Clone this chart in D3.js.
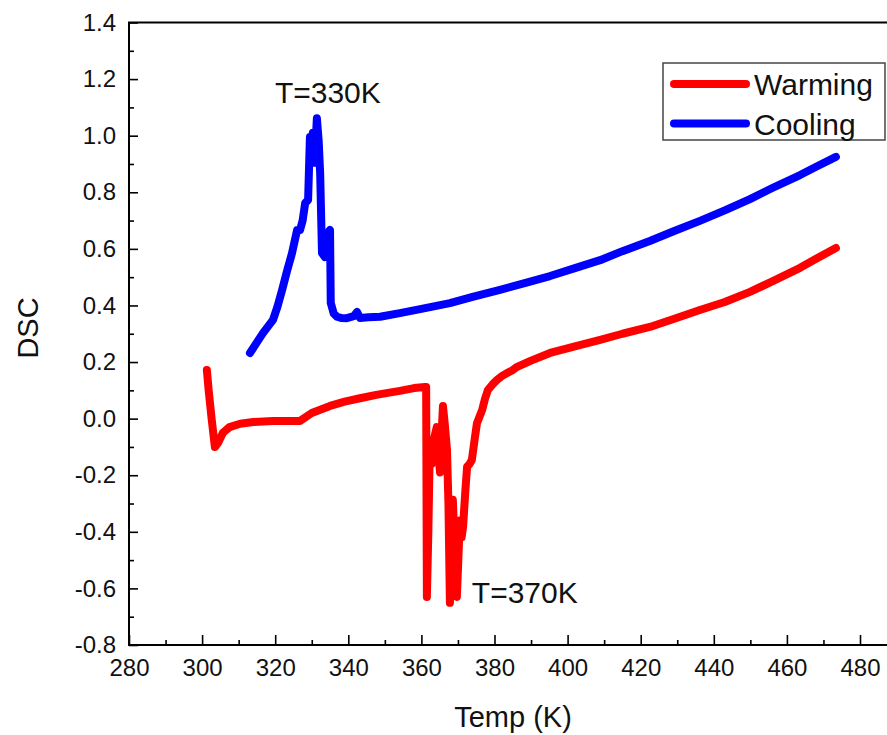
<!DOCTYPE html>
<html>
<head>
<meta charset="utf-8">
<script src="https://cdn.jsdelivr.net/npm/d3@7/dist/d3.min.js"></script>
<style>
  html, body { margin: 0; padding: 0; background: #fff; }
  svg { display: block; font-family: "Liberation Sans", Arial, Helvetica, sans-serif; }
</style>
</head>
<body>
<script>
// DSC heat-flow traces (temperature in K, signal in arbitrary units)
const warmingTemp = [301.3, 301.8, 302.6, 303.5, 304.4, 305.7, 307.5, 310.4, 314.0, 319.4, 323.0, 326.8,
  330.0, 335.0, 339.0, 343.2, 348.0, 354.1, 358.0, 361.0, 361.3, 361.5, 361.9, 362.3, 362.8, 363.3, 364.2,
  364.6, 365.1, 365.5, 365.9, 366.4, 367.0, 367.4, 367.8, 368.2, 368.6, 369.1, 369.7, 370.1, 370.5, 371.0,
  371.4, 372.0, 372.5, 373.2, 373.8, 374.5, 375.2, 376.0, 376.6, 377.4, 378.2, 379.4, 380.7, 382.0, 383.4,
  384.8, 386.2, 390.0, 395.2, 402.0, 408.9, 415.0, 422.5, 429.0, 436.2, 443.0, 449.9, 456.0, 463.6, 468.0, 473.4];
const warmingDSC = [0.172, 0.10, 0.00, -0.100, -0.085, -0.050, -0.030, -0.018, -0.012, -0.008, -0.008, -0.008,
  0.020, 0.045, 0.060, 0.072, 0.085, 0.098, 0.108, 0.112, 0.112, -0.630, -0.400, -0.100, -0.160, -0.080, -0.030,
  -0.120, -0.190, -0.060, 0.045, -0.020, -0.110, -0.300, -0.651, -0.450, -0.287, -0.450, -0.630, -0.500, -0.360, -0.420,
  -0.382, -0.260, -0.170, -0.160, -0.146, -0.080, -0.016, 0.010, 0.030, 0.070, 0.101, 0.120, 0.137, 0.150, 0.161,
  0.170, 0.183, 0.205, 0.232, 0.255, 0.278, 0.300, 0.324, 0.352, 0.384, 0.412, 0.448, 0.485, 0.533, 0.565, 0.603];

const coolingTemp = [313.1, 314.9, 316.7, 318.0, 319.4, 320.6, 321.9, 323.2, 324.6, 326.0, 326.8, 327.5,
  328.2, 329.0, 329.5, 329.9, 330.3, 330.8, 331.4, 331.9, 332.3, 332.8, 333.6, 334.1, 334.4, 335.0, 335.2,
  336.0, 336.9, 338.0, 339.6, 341.5, 342.4, 343.2, 345.5, 348.7, 354.1, 360.0, 367.8, 374.0, 381.5, 388.0,
  395.2, 402.0, 408.9, 415.0, 422.5, 429.0, 436.2, 443.0, 449.9, 456.0, 463.6, 468.0, 473.4];
const coolingDSC = [0.232, 0.268, 0.303, 0.325, 0.349, 0.395, 0.455, 0.520, 0.585, 0.667, 0.667, 0.700,
  0.762, 0.773, 0.995, 0.960, 1.010, 0.904, 1.062, 0.980, 0.868, 0.585, 0.571, 0.620, 0.656, 0.667, 0.409,
  0.372, 0.360, 0.356, 0.355, 0.362, 0.377, 0.356, 0.358, 0.360, 0.373, 0.388, 0.408, 0.430, 0.455, 0.478,
  0.504, 0.532, 0.560, 0.592, 0.628, 0.662, 0.699, 0.736, 0.776, 0.815, 0.861, 0.890, 0.925];

const xMajorTicks = [280, 300, 320, 340, 360, 380, 400, 420, 440, 460, 480];
const xMinorTicks = [290, 310, 330, 350, 370, 390, 410, 430, 450, 470];
const yMajorTicks = [-0.8, -0.6, -0.4, -0.2, 0.0, 0.2, 0.4, 0.6, 0.8, 1.0, 1.2, 1.4];
const yMinorTicks = [-0.7, -0.5, -0.3, -0.1, 0.1, 0.3, 0.5, 0.7, 0.9, 1.1, 1.3];

const seriesNames = ["Warming", "Cooling"];
const seriesColors = ["#ff0000", "#0000ff"];
const annotations = [
  { text: "T=330K", temp: 331.4, dsc: 1.062 },
  { text: "T=370K", temp: 369.7, dsc: -0.630 }
];

const W = 887, H = 735;
const plotLeft = 129, plotTop = 22.5, plotBottom = 645, plotRight = 900;

const x = d3.scaleLinear().domain([280, 480]).range([plotLeft, 860]);
const y = d3.scaleLinear().domain([-0.8, 1.4]).range([plotBottom, plotTop]);

const svg = d3.select("body").append("svg").attr("width", W).attr("height", H);

// curves
const line = d3.line().x(d => x(d[0])).y(d => y(d[1]));
const warming = warmingTemp.map((t, i) => [t, warmingDSC[i]]);
const cooling = coolingTemp.map((t, i) => [t, coolingDSC[i]]);
[warming, cooling].forEach((pts, i) => {
  svg.append("path").datum(pts).attr("d", line)
    .attr("fill", "none").attr("stroke", seriesColors[i])
    .attr("stroke-width", 8).attr("stroke-linejoin", "round").attr("stroke-linecap", "round");
});

// frame (right side runs past the page edge)
svg.append("path")
  .attr("d", `M${plotRight},${plotTop}H${plotLeft}V${plotBottom}H${plotRight}`)
  .attr("fill", "none").attr("stroke", "#000").attr("stroke-width", 2);

const labelFont = "Liberation Sans, Arial, sans-serif";

// x axis ticks pointing inward
const xAxis = d3.axisBottom(x).tickValues(xMajorTicks).tickSize(-10).tickPadding(14).tickFormat(d3.format("d"));
const gx = svg.append("g").attr("transform", `translate(0,${plotBottom})`).call(xAxis);
gx.select(".domain").remove();
gx.selectAll(".tick line").attr("stroke-width", 1.6);
gx.selectAll(".tick text").attr("font-size", 24).attr("fill", "#111").attr("font-family", labelFont);
const gxm = svg.append("g").attr("transform", `translate(0,${plotBottom})`)
  .call(d3.axisBottom(x).tickValues(xMinorTicks).tickSize(-5).tickFormat(""));
gxm.select(".domain").remove();
gxm.selectAll(".tick line").attr("stroke-width", 1.6);

// y axis ticks pointing inward
const yAxis = d3.axisLeft(y).tickValues(yMajorTicks).tickSize(-9).tickPadding(13).tickFormat(d3.format(".1f"));
const gy = svg.append("g").attr("transform", `translate(${plotLeft},0)`).call(yAxis);
gy.select(".domain").remove();
gy.selectAll(".tick line").attr("stroke-width", 1.6);
gy.selectAll(".tick text").attr("font-size", 24).attr("fill", "#111").attr("font-family", labelFont)
  .text(d => d3.format(".1f")(d).replace("−", "-"));
const gym = svg.append("g").attr("transform", `translate(${plotLeft},0)`)
  .call(d3.axisLeft(y).tickValues(yMinorTicks).tickSize(-5).tickFormat(""));
gym.select(".domain").remove();
gym.selectAll(".tick line").attr("stroke-width", 1.6);

// axis titles
svg.append("text").attr("x", 513).attr("y", 727).attr("text-anchor", "middle")
  .attr("font-size", 29).attr("fill", "#111").text("Temp (K)");
svg.append("text").attr("transform", "translate(38,328) rotate(-90)").attr("text-anchor", "middle")
  .attr("font-size", 29).attr("fill", "#111").text("DSC");

// transition labels
svg.append("text").attr("x", x(annotations[0].temp) + 11).attr("y", y(annotations[0].dsc) - 15)
  .attr("text-anchor", "middle").attr("font-size", 30).attr("fill", "#111").text(annotations[0].text);
svg.append("text").attr("x", x(annotations[1].temp) + 15).attr("y", y(annotations[1].dsc) + 6)
  .attr("font-size", 30).attr("fill", "#111").text(annotations[1].text);

// legend
const lg = svg.append("g");
lg.append("rect").attr("x", 663).attr("y", 63).attr("width", 222).attr("height", 77)
  .attr("fill", "#fff").attr("stroke", "#444").attr("stroke-width", 1.5);
seriesNames.forEach((name, i) => {
  const yy = 84 + i * 39.5;
  lg.append("line").attr("x1", 674).attr("x2", 746).attr("y1", yy).attr("y2", yy)
    .attr("stroke", seriesColors[i]).attr("stroke-width", 8).attr("stroke-linecap", "round");
  lg.append("text").attr("x", 754).attr("y", yy + 11).attr("font-size", 30).attr("fill", "#111").text(name);
});
</script>
</body>
</html>
